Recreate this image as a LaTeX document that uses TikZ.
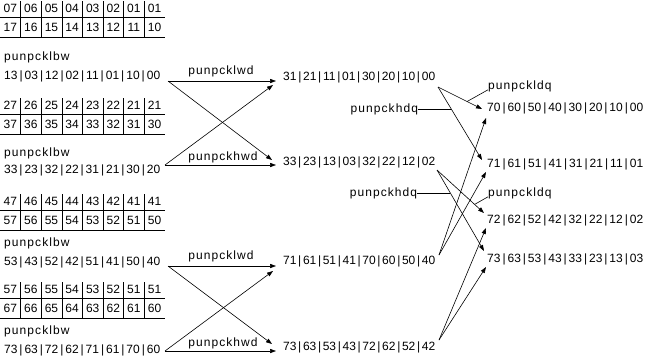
\documentclass[tikz,border=0pt]{standalone}
\usepackage{fontspec}
\setmainfont{Liberation Sans}
\newfontfamily\lblfont[LetterSpace=9]{Liberation Sans}
\usetikzlibrary{arrows.meta,calc}
\newcommand\Sp{\hfil|\hfil}
\newcommand\Rw[2]{\makebox[#1pt][s]{#2}}
\begin{document}
\begin{tikzpicture}[x=1pt,y=-1pt,
  font=\fontsize{12}{14}\selectfont,
  txt/.style={inner sep=0pt, anchor=west},
  lbl/.style={inner sep=0pt, font=\fontsize{12}{14}\selectfont\lblfont},
  cell/.style={inner sep=0pt},
  grid/.style={line width=0.6pt},
  ln/.style={line width=0.6pt},
  arr/.style={line width=0.6pt, -{Triangle[length=6pt,width=4.2pt]}}]
\useasboundingbox (0,0) rectangle (650,357);

% ---------- input tables ----------
\foreach \t/\yy/\ra/\rb in {
  A/0/{07,06,05,04,03,02,01,01}/{17,16,15,14,13,12,11,10},
  B/97/{27,26,25,24,23,22,21,21}/{37,36,35,34,33,32,31,30},
  C/193/{47,46,45,44,43,42,41,41}/{57,56,55,54,53,52,51,50},
  D/281/{57,56,55,54,53,52,51,51}/{67,66,65,64,63,62,61,60}}{
  \foreach \v [count=\i] in \ra
    \node[cell] (\t a\i) at ({20.6*(\i-0.5)}, \yy+8.5) {\v};
  \foreach \v [count=\i] in \rb
    \node[cell] (\t b\i) at ({20.6*(\i-0.5)}, \yy+27.5) {\v};
  \foreach \k in {1,...,7}
    \draw[grid] ({20.6*\k}, \yy+1) -- ({20.6*\k}, \yy+37);
  \draw[grid] (0,\yy+17) -- (165,\yy+17);
  \draw[grid] (0,\yy+37) -- (165,\yy+37);
}

% ---------- punpcklbw results ----------
\node[lbl, anchor=west] (bw1) at (4,57) {punpcklbw};
\node[lbl, anchor=west] (bw2) at (4,153) {punpcklbw};
\node[lbl, anchor=west] (bw3) at (4,243) {punpcklbw};
\node[lbl, anchor=west] (bw4) at (4,331) {punpcklbw};

\node[txt] (r1) at (4,76)  {\Rw{156}{13\Sp03\Sp12\Sp02\Sp11\Sp01\Sp10\Sp00}};
\node[txt] (r2) at (4,170) {\Rw{156}{33\Sp23\Sp32\Sp22\Sp31\Sp21\Sp30\Sp20}};
\node[txt] (r3) at (4,262) {\Rw{156}{53\Sp43\Sp52\Sp42\Sp51\Sp41\Sp50\Sp40}};
\node[txt] (r4) at (4,350) {\Rw{156}{73\Sp63\Sp72\Sp62\Sp71\Sp61\Sp70\Sp60}};

% ---------- punpck?wd results ----------
\node[txt] (m1) at (283,77)  {\Rw{152}{31\Sp21\Sp11\Sp01\Sp30\Sp20\Sp10\Sp00}};
\node[txt] (m2) at (283,162) {\Rw{152}{33\Sp23\Sp13\Sp03\Sp32\Sp22\Sp12\Sp02}};
\node[txt] (m3) at (283,261) {\Rw{152}{71\Sp61\Sp51\Sp41\Sp70\Sp60\Sp50\Sp40}};
\node[txt] (m4) at (283,347) {\Rw{152}{73\Sp63\Sp53\Sp43\Sp72\Sp62\Sp52\Sp42}};

% ---------- final results ----------
\node[txt] (f1) at (487,108) {\Rw{156}{70\Sp60\Sp50\Sp40\Sp30\Sp20\Sp10\Sp00}};
\node[txt] (f2) at (487,164) {\Rw{156}{71\Sp61\Sp51\Sp41\Sp31\Sp21\Sp11\Sp01}};
\node[txt] (f3) at (487,220) {\Rw{156}{72\Sp62\Sp52\Sp42\Sp32\Sp22\Sp12\Sp02}};
\node[txt] (f4) at (487,259) {\Rw{156}{73\Sp63\Sp53\Sp43\Sp33\Sp23\Sp13\Sp03}};

% ---------- connector points ----------
\coordinate (r1o) at (168,81);
\coordinate (r2o) at (165,165);
\coordinate (r3o) at (168,266);
\coordinate (r4o) at (165,351);
\coordinate (m1h) at (276,81);  \coordinate (m1x) at (273,85);
\coordinate (m2x) at (272,160); \coordinate (m2h) at (276,165);
\coordinate (m3h) at (276,266); \coordinate (m3x) at (273,271);
\coordinate (m4x) at (272,344); \coordinate (m4h) at (276,351);

\coordinate (m1o) at (438,87);
\coordinate (m2o) at (437,170);
\coordinate (m3o) at (439,255);
\coordinate (m4o) at (439,340);
\coordinate (f1a) at (482,109); \coordinate (f1b) at (486,118);
\coordinate (f2a) at (482,160); \coordinate (f2b) at (486,172);
\coordinate (f3a) at (484,213); \coordinate (f3b) at (486,228);
\coordinate (f4a) at (484,251); \coordinate (f4b) at (486,267);

% ---------- word unpacks ----------
\draw[arr] (r1o) -- (m1h);
\draw[arr] (r1o) -- (m2x);
\draw[arr] (r2o) -- (m1x);
\draw[arr] (r2o) -- (m2h);
\draw[arr] (r3o) -- (m3h);
\draw[arr] (r3o) -- (m4x);
\draw[arr] (r4o) -- (m3x);
\draw[arr] (r4o) -- (m4h);
\node[lbl] (lwd1) at (221,71)  {punpcklwd};
\node[lbl] (hwd1) at (223,157) {punpckhwd};
\node[lbl] (lwd2) at (221,256) {punpcklwd};
\node[lbl] (hwd2) at (223,343) {punpckhwd};

% ---------- dword unpacks ----------
\draw[arr] (m1o) -- coordinate[pos=0.66] (ldq1p) (f1a);
\draw[arr] (m1o) -- coordinate[pos=0.30] (hdq1p) (f2a);
\draw[arr] (m3o) -- (f1b);
\draw[arr] (m3o) -- (f2b);
\draw[arr] (m2o) -- coordinate[pos=0.80] (ldq2p) (f3a);
\draw[arr] (m2o) -- coordinate[pos=0.284] (hdq2p) (f4a);
\draw[arr] (m4o) -- (f3b);
\draw[arr] (m4o) -- (f4b);

\node[lbl, anchor=east] (hdq1) at ($(hdq1p)+(-33,0)$) {punpckhdq};
\node[lbl, anchor=east] (hdq2) at ($(hdq2p)+(-33,0)$) {punpckhdq};
\draw[ln] (hdq1.east) -- (hdq1p);
\draw[ln] (hdq2.east) -- (hdq2p);
\node[lbl, anchor=west] (ldq1) at (488,86)  {punpckldq};
\node[lbl, anchor=west] (ldq2) at (488,193) {punpckldq};
\draw[ln] ($(ldq1.south west)+(0,-2)$) -- (ldq1p);
\draw[ln] ($(ldq2.south west)+(0,-2)$) -- (ldq2p);
\end{tikzpicture}
\end{document}
